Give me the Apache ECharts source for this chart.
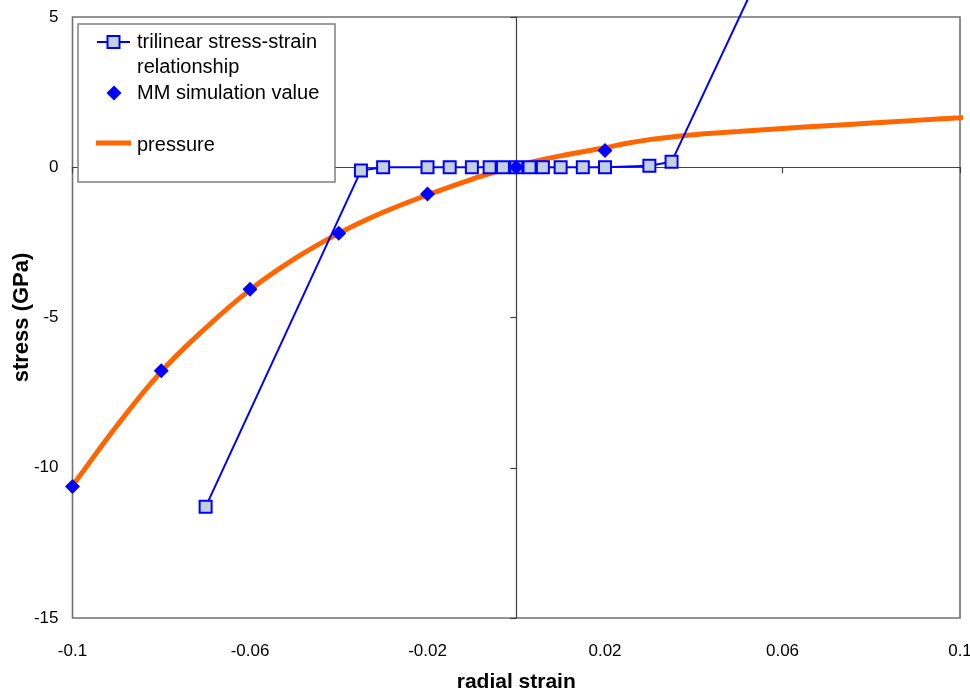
<!DOCTYPE html>
<html>
<head>
<meta charset="utf-8">
<script src="https://cdn.jsdelivr.net/npm/echarts@6/dist/echarts.min.js"></script>
<style>
  html, body { margin: 0; padding: 0; background: #fff; }
  #chart { width: 970px; height: 692px; }
</style>
</head>
<body>
<div id="chart"></div>
<script>
// ---- data ----
const triStrain = [-0.07, -0.035, -0.03, -0.02, -0.015, -0.01, -0.006, -0.003, 0, 0.003, 0.006, 0.01, 0.015, 0.02, 0.03, 0.035, 0.07];
const triStress = [-11.3, -0.11, 0, 0, 0, 0, 0, 0, 0, 0, 0, 0, 0, 0, 0.05, 0.18, 11.2];

const mmStrain = [-0.1, -0.08, -0.06, -0.04, -0.02, 0, 0.02];
const mmStress = [-10.62, -6.77, -4.06, -2.2, -0.89, 0, 0.56];

const pStrain = [-0.1013, -0.1, -0.09, -0.08, -0.07, -0.06, -0.05, -0.04, -0.03, -0.02, -0.01, 0, 0.01, 0.02, 0.025, 0.03, 0.035, 0.04, 0.045, 0.05, 0.06, 0.07, 0.08, 0.09, 0.1, 0.1015];
const pStress = [-10.85, -10.6, -8.6, -6.8, -5.35, -4.08, -3.05, -2.2, -1.5, -0.92, -0.4, 0.05, 0.38, 0.65, 0.8, 0.92, 1.01, 1.08, 1.14, 1.19, 1.29, 1.38, 1.47, 1.56, 1.65, 1.67];

const xMin = -0.1, xMax = 0.1, xStep = 0.04;
const yMin = -15, yMax = 5, yStep = 5;

const legendLabels = ['trilinear stress-strain', 'relationship', 'MM simulation value', 'pressure'];
const xTitle = 'radial strain';
const yTitle = 'stress (GPa)';

// ---- build ----
const zip = (a, b) => a.map((v, i) => [v, b[i]]);
const FONT = '"Liberation Sans", Arial, sans-serif';
const BLUE = '#0000ff';
const ORANGE = '#ff6600';
const SQFILL = '#c4d0dc';

const chart = echarts.init(document.getElementById('chart'), null, { renderer: 'canvas' });

const fmt = v => String(+(+v).toFixed(3));

const option = {
  backgroundColor: '#ffffff',
  animation: false,
  grid: {
    left: 72.5, right: 10, top: 17, bottom: 74,
    containLabel: false, outerBoundsMode: 'none',
    show: true, borderColor: '#707070', borderWidth: 1.6, backgroundColor: 'transparent'
  },
  xAxis: [
    {
      type: 'value', position: 'bottom', min: xMin, max: xMax, interval: xStep,
      axisLine: { show: false, onZero: false },
      axisTick: { show: false },
      splitLine: { show: false },
      axisLabel: { color: '#000', fontFamily: FONT, fontSize: 17, margin: 25, formatter: fmt, showMinLabel: true, showMaxLabel: true, hideOverlap: false },
      name: xTitle, nameLocation: 'middle', nameGap: 54,
      nameTextStyle: { color: '#000', fontFamily: FONT, fontSize: 21, fontWeight: 'bold' }
    },
    {
      type: 'value', position: 'top', min: xMin, max: xMax, interval: xStep,
      axisLine: { show: true, onZero: true, onZeroAxisIndex: 0, lineStyle: { color: '#404040', width: 1.2 } },
      axisTick: { show: true, inside: true, length: 6, lineStyle: { color: '#404040', width: 1.2 } },
      splitLine: { show: false },
      axisLabel: { show: false }
    }
  ],
  yAxis: [
    {
      type: 'value', position: 'left', min: yMin, max: yMax, interval: yStep,
      axisLine: { show: false, onZero: false },
      axisTick: { show: false },
      splitLine: { show: false },
      axisLabel: { color: '#000', fontFamily: FONT, fontSize: 17, margin: 14, formatter: fmt },
      name: yTitle, nameLocation: 'middle', nameGap: 40, nameMoveOverlap: false,
      nameTextStyle: { color: '#000', fontFamily: FONT, fontSize: 22, fontWeight: 'bold' }
    },
    {
      type: 'value', position: 'right', min: yMin, max: yMax, interval: yStep,
      axisLine: { show: true, onZero: true, onZeroAxisIndex: 0, lineStyle: { color: '#404040', width: 1.2 } },
      axisTick: { show: true, inside: true, length: 6, lineStyle: { color: '#404040', width: 1.2 } },
      splitLine: { show: false },
      axisLabel: { show: false }
    }
  ],
  series: [
    {
      name: 'pressure', type: 'line', xAxisIndex: 0, yAxisIndex: 0,
      data: zip(pStrain, pStress), smooth: 0.4, showSymbol: false, symbol: 'none',
      clip: false, z: 2,
      lineStyle: { color: ORANGE, width: 5 }
    },
    {
      name: 'trilinear stress-strain relationship', type: 'line', xAxisIndex: 0, yAxisIndex: 0,
      data: zip(triStrain, triStress), symbol: 'rect', symbolSize: 12, showAllSymbol: true,
      clip: false, z: 3,
      lineStyle: { color: BLUE, width: 2 },
      itemStyle: { color: SQFILL, borderColor: BLUE, borderWidth: 2 }
    },
    {
      name: 'MM simulation value', type: 'scatter', xAxisIndex: 0, yAxisIndex: 0,
      data: zip(mmStrain, mmStress), symbol: 'diamond', symbolSize: 15, z: 4,
      itemStyle: { color: BLUE, opacity: 1 }
    }
  ],
  graphic: [
    { type: 'rect', z: 100, shape: { x: 78, y: 24, width: 257, height: 158 },
      style: { fill: '#fff', stroke: '#808080', lineWidth: 1.5 } },
    { type: 'line', z: 101, shape: { x1: 97, y1: 42, x2: 130, y2: 42 }, style: { stroke: BLUE, lineWidth: 2 } },
    { type: 'rect', z: 102, shape: { x: 107.5, y: 36, width: 12, height: 12 }, style: { fill: SQFILL, stroke: BLUE, lineWidth: 2 } },
    { type: 'polygon', z: 102, shape: { points: [[114, 85.5], [121.5, 93], [114, 100.5], [106.5, 93]] }, style: { fill: BLUE } },
    { type: 'line', z: 101, shape: { x1: 96, y1: 143, x2: 131, y2: 143 }, style: { stroke: ORANGE, lineWidth: 5 } },
    { type: 'text', z: 102, x: 137, y: 42, style: { text: legendLabels[0], font: '20px ' + FONT, fill: '#000', verticalAlign: 'middle' } },
    { type: 'text', z: 102, x: 137, y: 67, style: { text: legendLabels[1], font: '20px ' + FONT, fill: '#000', verticalAlign: 'middle' } },
    { type: 'text', z: 102, x: 137, y: 93, style: { text: legendLabels[2], font: '20px ' + FONT, fill: '#000', verticalAlign: 'middle' } },
    { type: 'text', z: 102, x: 137, y: 145, style: { text: legendLabels[3], font: '20px ' + FONT, fill: '#000', verticalAlign: 'middle' } }
  ]
};
chart.setOption(option);
</script>
</body>
</html>
